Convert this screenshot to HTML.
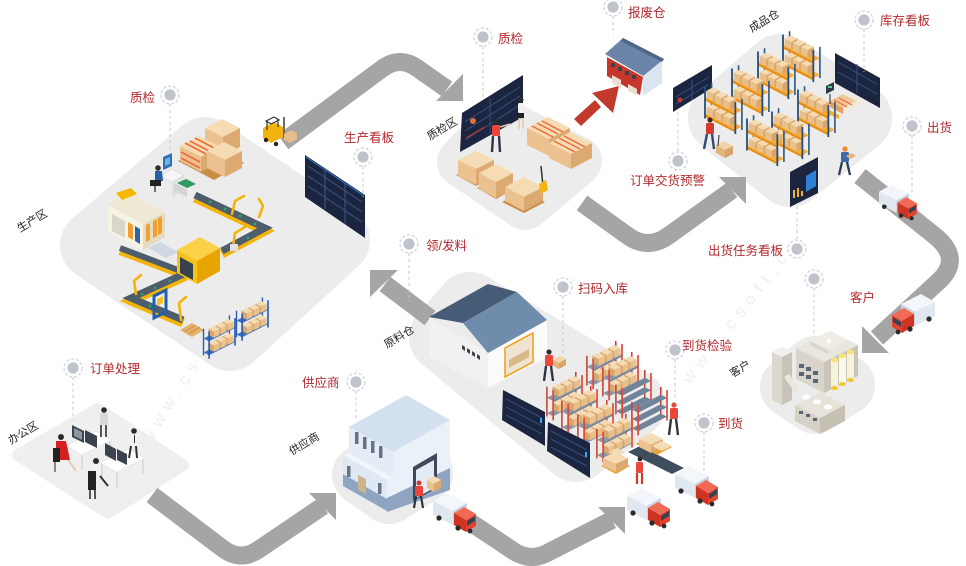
<!DOCTYPE html>
<html><head><meta charset="utf-8">
<style>
html,body{margin:0;padding:0;background:#fff;}
svg{display:block;}
.r{font-family:"Liberation Sans","Noto Sans CJK SC",sans-serif;font-size:12.5px;fill:#b2282d;}
.k{font-family:"Liberation Sans","Noto Sans CJK SC",sans-serif;font-size:11px;fill:#222;}
.w{font-family:"Liberation Sans",sans-serif;font-size:17px;fill:#efefef;letter-spacing:7px;}
</style></head><body>
<svg width="966" height="566" viewBox="0 0 966 566" xmlns="http://www.w3.org/2000/svg" xmlns:xlink="http://www.w3.org/1999/xlink">
<defs>
<g id="bx">
 <polygon points="0,0 8,-4 16,0 8,4" fill="#f5dbb3"/>
 <polygon points="0,0 8,4 8,13 0,9" fill="#e9bf8a"/>
 <polygon points="8,4 16,0 16,9 8,13" fill="#d9a76c"/>
</g>
<g id="truck">
 <polygon points="0,10 14,2 34,12 20,20" fill="#f3f6fa"/>
 <polygon points="0,10 20,20 20,34 0,24" fill="#dfe7f1"/>
 <polygon points="20,20 34,12 34,26 20,34" fill="#c9d4e2"/>
 <polygon points="21,22 31,16 43,23 33,29" fill="#f06a55"/>
 <polygon points="21,22 33,29 33,41 21,34" fill="#cf3322"/>
 <polygon points="33,29 43,23 43,35 33,41" fill="#e6432f"/>
 <polygon points="34,30 42,25 42,30 34,35" fill="#344255"/>
 <circle cx="6" cy="27" r="2.6" fill="#2b2b2b"/>
 <circle cx="25" cy="37" r="2.6" fill="#2b2b2b"/>
 <circle cx="37" cy="40" r="2.4" fill="#2b2b2b"/>
</g>
<g id="shf">
 <line x1="8" y1="-18" x2="8" y2="20" stroke="#2c5a88" stroke-width="2"/>
 <line x1="45" y1="1" x2="45" y2="39" stroke="#2c5a88" stroke-width="2"/>
 <polygon points="0,20 8,16 45,35 37,39" fill="#f7ad3a"/>
 <polygon points="0,20 37,39 37,42 0,23" fill="#e98c12"/>
 <use xlink:href="#bx" x="2" y="11"/><use xlink:href="#bx" x="12" y="16"/><use xlink:href="#bx" x="22" y="21"/>
 <polygon points="0,0 8,-4 45,15 37,19" fill="#f7ad3a"/>
 <polygon points="0,0 37,19 37,22 0,3" fill="#e98c12"/>
 <use xlink:href="#bx" x="2" y="-9"/><use xlink:href="#bx" x="12" y="-4"/><use xlink:href="#bx" x="22" y="1"/>
 <line x1="0" y1="-14" x2="0" y2="25" stroke="#24507c" stroke-width="2.2"/>
 <line x1="37" y1="5" x2="37" y2="44" stroke="#24507c" stroke-width="2.2"/>
</g>
<g id="shr">
 <line x1="8" y1="-18" x2="8" y2="20" stroke="#c8412f" stroke-width="2"/>
 <line x1="45" y1="1" x2="45" y2="39" stroke="#c8412f" stroke-width="2"/>
 <polygon points="0,20 8,16 45,35 37,39" fill="#8796a8"/>
 <use xlink:href="#bx" x="2" y="11"/><use xlink:href="#bx" x="12" y="16"/><use xlink:href="#bx" x="22" y="21"/>
 <polygon points="0,0 8,-4 45,15 37,19" fill="#8796a8"/>
 <polygon points="0,0 37,19 37,21 0,2" fill="#6d7d90"/>
 <use xlink:href="#bx" x="2" y="-9"/><use xlink:href="#bx" x="12" y="-4"/><use xlink:href="#bx" x="22" y="1"/>
 <line x1="0" y1="-14" x2="0" y2="25" stroke="#e04b38" stroke-width="2.2"/>
 <line x1="37" y1="5" x2="37" y2="44" stroke="#e04b38" stroke-width="2.2"/>
</g>
<g id="shg">
 <line x1="8" y1="-18" x2="8" y2="20" stroke="#c8412f" stroke-width="2"/>
 <line x1="45" y1="1" x2="45" y2="39" stroke="#c8412f" stroke-width="2"/>
 <polygon points="0,20 8,16 45,35 37,39" fill="#70839a"/>
 <polygon points="0,8 8,4 45,23 37,27" fill="#70839a"/>
 <polygon points="0,-4 8,-8 45,11 37,15" fill="#70839a"/>
 <line x1="0" y1="-14" x2="0" y2="25" stroke="#e04b38" stroke-width="2.2"/>
 <line x1="37" y1="5" x2="37" y2="44" stroke="#e04b38" stroke-width="2.2"/>
</g>
<g id="shb">
 <line x1="8" y1="-18" x2="8" y2="20" stroke="#2a5fb0" stroke-width="2"/>
 <line x1="45" y1="1" x2="45" y2="39" stroke="#2a5fb0" stroke-width="2"/>
 <polygon points="0,20 8,16 45,35 37,39" fill="#3f6fc0"/>
 <use xlink:href="#bx" x="2" y="11"/><use xlink:href="#bx" x="12" y="16"/><use xlink:href="#bx" x="22" y="21"/>
 <polygon points="0,0 8,-4 45,15 37,19" fill="#3f6fc0"/>
 <use xlink:href="#bx" x="2" y="-9"/><use xlink:href="#bx" x="12" y="-4"/><use xlink:href="#bx" x="22" y="1"/>
 <line x1="0" y1="-14" x2="0" y2="25" stroke="#1f56b0" stroke-width="2.2"/>
 <line x1="37" y1="5" x2="37" y2="44" stroke="#1f56b0" stroke-width="2.2"/>
</g>
<g id="pin">
 <circle r="9" fill="#fff" stroke="#d3d6dc" stroke-width="1.4" stroke-dasharray="3 2"/>
 <circle r="5.6" fill="#bfc3cb"/>
</g>
</defs>

<!-- watermark -->
<text class="w" transform="translate(150,445) rotate(-58)">www.csoft.cn</text>
<text class="w" transform="translate(690,385) rotate(-52)">www.csoft.cn</text>

<!-- platforms -->
<g stroke-linejoin="round">
<polygon points="95,245 205,152 335,240 230,336" fill="#ececec" stroke="#ececec" stroke-width="70"/>
<polygon points="462,162 500,122 577,161 525,205" fill="#ececec" stroke="#ececec" stroke-width="50"/>
<polygon points="723,118 780,69 857,118 790,172" fill="#ececec" stroke="#ececec" stroke-width="70"/>
<polygon points="444,337 470,307 631,404 576,447" fill="#ececec" stroke="#ececec" stroke-width="70"/>
<polygon points="790,387 815,366 845,385 815,404" fill="#ececec" stroke="#ececec" stroke-width="60"/>
<polygon points="18,455 98,409 183,465 108,513" fill="#efefef" stroke="#efefef" stroke-width="12"/>
<polygon points="362,475 397,449 423,473 389,494" fill="#ececec" stroke="#ececec" stroke-width="60"/>
</g>

<!-- gray flow arrows -->
<g fill="none" stroke="#a5a5a5" stroke-width="18">
<path d="M283 142 L383 68 Q400 56 417 68 L447 89"/>
<path d="M582 203 L628 236 Q648 250 668 236 L732 190"/>
<path d="M860 176 L935 236 Q962 258 940 280 L877 338"/>
<path d="M430 318 L385 284"/>
<path d="M152 495 L222 548 Q240 562 258 550 L323 506"/>
<path d="M470 522 L515 552 Q532 562 549 552 L612 520"/>
</g>
<g fill="#a5a5a5">
<polygon points="463,101 463,74 436,101"/>
<polygon points="746,177 719,177 746,204"/>
<polygon points="862,353 862,326 889,353"/>
<polygon points="370,270 398,270 370,297"/>
<polygon points="336,493 309,493 336,520"/>
<polygon points="625,507 598,507 625,534"/>
</g>

<!-- red arrow -->
<polygon points="574,119 595,100 601,107 581,126" fill="#c23a2c"/>
<polygon points="619,86 592,93 613,113" fill="#c23a2c"/>

<!-- ================= PRODUCTION ================= -->
<polygon points="178,161 208,144 244,163 214,180" fill="#c98d45"/>
<polygon points="205,128 222,119 240,128 223,137" fill="#f6dcb4"/>
<polygon points="205,128 223,137 223,156 205,147" fill="#ebc190"/>
<polygon points="223,137 240,128 240,147 223,156" fill="#dcaa70"/>
<polygon points="180,146 199,136 220,147 201,157" fill="#f6dcb4"/>
<polygon points="180,146 201,157 201,172 180,161" fill="#ebc190"/>
<polygon points="201,157 220,147 220,162 201,172" fill="#dcaa70"/>
<g stroke="#ef6a3a" stroke-width="1.6">
<line x1="185" y1="143" x2="206" y2="154"/><line x1="190" y1="141" x2="211" y2="152"/><line x1="195" y1="138" x2="216" y2="149"/>
<line x1="181" y1="152" x2="200" y2="162"/><line x1="181" y1="158" x2="200" y2="168"/>
</g>
<polygon points="207,151 224,142 242,151 225,160" fill="#f6dcb4"/>
<polygon points="207,151 225,160 225,177 207,168" fill="#ebc190"/>
<polygon points="225,160 242,151 242,168 225,177" fill="#dcaa70"/>

<!-- forklift -->
<polygon points="263,128 274,122 283,127 283,137 271,143 263,138" fill="#f4b40f"/>
<polygon points="266,121 274,117 279,120 271,124" fill="none" stroke="#333" stroke-width="1.2"/>
<line x1="267" y1="121" x2="267" y2="130" stroke="#333" stroke-width="1.2"/>
<line x1="278" y1="119" x2="278" y2="127" stroke="#333" stroke-width="1.2"/>
<line x1="284" y1="117" x2="284" y2="138" stroke="#6b6b6b" stroke-width="2"/>
<circle cx="266" cy="140" r="2.2" fill="#222"/><circle cx="276" cy="144" r="2.2" fill="#222"/>
<polygon points="284,134 291,130 297,133 297,139 290,143 284,140" fill="#e6be8a"/>

<!-- computer station -->
<polygon points="160,176 172,169 184,175 172,182" fill="#f6f6f6" stroke="#d5d5d5" stroke-width="0.6"/>
<polygon points="172,182 184,175 184,190 172,197" fill="#e0e0e0"/>
<polygon points="163,157 172,153 172,166 163,170" fill="#2f6fb5"/>
<polygon points="165,159 170,157 170,164 165,166" fill="#6fb0e8"/>
<circle cx="158" cy="168" r="2.8" fill="#2b2b2b"/>
<polygon points="155,171 162,171 163,181 155,181" fill="#2660a8"/>
<polygon points="150,180 161,180 161,186 150,186" fill="#222"/>
<line x1="155" y1="186" x2="155" y2="192" stroke="#444" stroke-width="1.5"/>
<polygon points="174,183 186,177 199,184 187,190" fill="#e6e9e6"/>
<polygon points="177,183 186,179 196,184 187,188" fill="#2f9a62"/>
<polygon points="174,183 187,190 187,197 174,190" fill="#d4d4d4"/>

<!-- cream machine -->
<polygon points="108,205 130,193 165,212 143,224" fill="#efe9d4"/>
<polygon points="108,205 143,224 143,250 108,231" fill="#f7f3e2"/>
<polygon points="143,224 165,212 165,237 143,250" fill="#e3dcc3"/>
<polygon points="112,214 125,221 125,238 112,231" fill="#d9d6cc"/>
<polygon points="128,222 133,225 133,240 128,237" fill="#f0a030"/>
<polygon points="135,226 140,229 140,244 135,241" fill="#2f65a8"/>
<polygon points="146,225 150,223 150,240 146,242" fill="#f0a030"/>
<polygon points="153,221 157,219 157,236 153,238" fill="#f0a030"/>
<polygon points="158,218 162,216 162,233 158,235" fill="#f0a030"/>
<polygon points="116,193 131,188 137,194 122,200" fill="#f5b800"/>
<polygon points="148,248 160,242 178,252 166,258" fill="#cfd8e2"/>

<!-- conveyors -->
<g fill="none" stroke-linejoin="miter">
<path d="M195 198 L265 231 L222 254" stroke="#f2b40c" stroke-width="9"/>
<path d="M195 195 L265 228 L222 251" stroke="#4d5d6c" stroke-width="7"/>
<path d="M120 251 L178 273" stroke="#f2b40c" stroke-width="8"/>
<path d="M120 248 L178 270" stroke="#4d5d6c" stroke-width="6"/>
<path d="M186 276 L131 301 L183 323" stroke="#f2b40c" stroke-width="9"/>
<path d="M186 273 L131 298 L183 320" stroke="#4d5d6c" stroke-width="7"/>
</g>
<g fill="#2fa36b">
<circle cx="210" cy="202" r="1.4"/><circle cx="225" cy="209" r="1.4"/><circle cx="240" cy="216" r="1.4"/><circle cx="255" cy="224" r="1.4"/>
<circle cx="248" cy="238" r="1.4"/><circle cx="235" cy="245" r="1.4"/>
<circle cx="170" cy="281" r="1.4"/><circle cx="155" cy="288" r="1.4"/><circle cx="142" cy="294" r="1.4"/>
<circle cx="150" cy="306" r="1.4"/><circle cx="165" cy="312" r="1.4"/>
</g>
<polygon points="177,250 200,237 220,248 197,261" fill="#fbd147"/>
<polygon points="177,250 197,261 197,284 177,273" fill="#f7c21a"/>
<polygon points="197,261 220,248 220,271 197,284" fill="#e8a500"/>
<polygon points="180,257 193,264 193,280 180,273" fill="#37424f"/>
<g fill="none" stroke="#f2b40c" stroke-width="2.6" stroke-linecap="round">
<path d="M232 214 L235 201 L244 196"/>
<path d="M259 217 L263 206 L259 199"/>
<path d="M233 247 L235 233 L245 227"/>
<path d="M136 294 L134 281 L141 275"/>
<path d="M181 320 L179 303 L186 297"/>
</g>
<rect x="230" y="244" width="8" height="7" fill="#e0e0e0"/>
<polygon points="154,296 166,290 166,312 154,318" fill="none" stroke="#1f5fae" stroke-width="3"/>
<polygon points="157,299 163,296 163,303 157,306" fill="#f5c020"/>
<polygon points="180,330 192,323 204,330 192,337" fill="#e5b068"/>
<g stroke="#c98d45" stroke-width="0.8"><line x1="184" y1="332" x2="196" y2="325"/><line x1="188" y1="334" x2="200" y2="327"/></g>
<use xlink:href="#shb" transform="translate(268,310) scale(-0.7,0.7)"/>
<use xlink:href="#shb" transform="translate(235,328) scale(-0.7,0.7)"/>

<!-- production screen -->
<polygon points="305,155 365,195 365,238 305,197" fill="#1c2540"/>
<g stroke="#3d5688" stroke-width="1">
<line x1="308" y1="166" x2="362" y2="202"/><line x1="308" y1="176" x2="362" y2="212"/><line x1="308" y1="186" x2="362" y2="222"/>
<line x1="325" y1="170" x2="325" y2="209"/><line x1="345" y1="183" x2="345" y2="223"/>
</g>
<line x1="306" y1="157" x2="364" y2="196" stroke="#2c7bd0" stroke-width="1"/>

<!-- ================= QUALITY ================= -->
<polygon points="462,113 523,75 523,117 460,152" fill="#1c2540"/>
<g stroke="#35507e" stroke-width="1">
<line x1="465" y1="122" x2="520" y2="87"/><line x1="465" y1="131" x2="520" y2="96"/><line x1="465" y1="140" x2="520" y2="105"/>
<line x1="490" y1="98" x2="490" y2="134"/>
</g>
<circle cx="473" cy="121" r="3" fill="#e3703a"/>
<line x1="466" y1="138" x2="485" y2="127" stroke="#c0392b" stroke-width="1.2"/>
<circle cx="521" cy="100" r="2.5" fill="#2b2b2b"/>
<rect x="518" y="103" width="6" height="10" rx="1.5" fill="#f2f2f2"/>
<rect x="518" y="113" width="6" height="5" fill="#222"/>
<path d="M519 118 L519 129 M523 118 L523 129" stroke="#e8c8a8" stroke-width="1.6"/>
<circle cx="496" cy="122" r="2.6" fill="#2b2b2b"/>
<rect x="492" y="125" width="8" height="11" rx="1.5" fill="#e9473a"/>
<line x1="500" y1="127" x2="510" y2="124" stroke="#e8c8a8" stroke-width="1.6"/>
<path d="M493 136 L492 152 M499 136 L500 152" stroke="#2e3440" stroke-width="2.4"/>
<polygon points="527,128 548,117 570,128 549,139" fill="#f6dcb4"/>
<polygon points="527,128 549,139 549,156 527,145" fill="#ebc190"/>
<polygon points="549,139 570,128 570,145 549,156" fill="#dcaa70"/>
<polygon points="549,143 570,132 592,143 571,154" fill="#f6dcb4"/>
<polygon points="549,143 571,154 571,169 549,158" fill="#ebc190"/>
<polygon points="571,154 592,143 592,158 571,169" fill="#dcaa70"/>
<g stroke="#ef6a3a" stroke-width="1.5">
<line x1="532" y1="126" x2="553" y2="137"/><line x1="537" y1="123" x2="558" y2="134"/><line x1="542" y1="121" x2="563" y2="132"/>
<line x1="554" y1="141" x2="575" y2="152"/><line x1="559" y1="138" x2="580" y2="149"/><line x1="564" y1="136" x2="585" y2="147"/>
</g>
<polygon points="456,175 476,164 496,175 476,186" fill="#c98d45"/>
<polygon points="458,160 476,151 494,160 476,169" fill="#f6dcb4"/>
<polygon points="458,160 476,169 476,185 458,176" fill="#ebc190"/>
<polygon points="476,169 494,160 494,176 476,185" fill="#dcaa70"/>
<polygon points="477,188 496,177 515,188 496,199" fill="#c98d45"/>
<polygon points="479,173 496,164 513,173 496,182" fill="#f6dcb4"/>
<polygon points="479,173 496,182 496,198 479,189" fill="#ebc190"/>
<polygon points="496,182 513,173 513,189 496,198" fill="#dcaa70"/>
<polygon points="502,202 523,191 545,202 524,213" fill="#c98d45"/>
<polygon points="505,187 524,177 543,187 524,197" fill="#f6dcb4"/>
<polygon points="505,187 524,197 524,211 505,201" fill="#ebc190"/>
<polygon points="524,197 543,187 543,201 524,211" fill="#dcaa70"/>
<line x1="541" y1="166" x2="543" y2="186" stroke="#333" stroke-width="1.5"/>
<polygon points="539,184 546,180 548,190 541,194" fill="#f4b40f"/>

<!-- scrap warehouse -->
<polygon points="607,57 643,77 640,95 607,76" fill="#c8352b"/>
<polygon points="643,74 662,61 662,83 643,96" fill="#dbe5f2"/>
<polygon points="605,54 623,38 664,59 648,72 643,76" fill="#6b84a8"/>
<polygon points="623,38 664,59 662,62 621,41" fill="#4f6687"/>
<g fill="#3a4250"><rect x="611" y="63" width="4" height="4"/><rect x="618" y="67" width="4" height="4"/><rect x="625" y="71" width="4" height="4"/><rect x="632" y="75" width="4" height="4"/></g>
<polygon points="612,75 621,80 621,88 612,83" fill="#e8dfcf"/>
<polygon points="628,84 637,89 637,95 628,91" fill="#e8dfcf"/>

<!-- ================= FINISHED GOODS ================= -->
<polygon points="673,88 712,65 712,88 673,112" fill="#1c2540"/>
<g stroke="#35507e" stroke-width="1"><line x1="676" y1="97" x2="709" y2="77"/><line x1="676" y1="104" x2="709" y2="84"/><line x1="692" y1="80" x2="692" y2="100"/></g>
<circle cx="680" cy="100" r="2.5" fill="#c0392b"/>
<polygon points="835,53 880,78 880,108 835,83" fill="#1c2540"/>
<g stroke="#35507e" stroke-width="1"><line x1="838" y1="62" x2="877" y2="84"/><line x1="838" y1="72" x2="877" y2="94"/><line x1="857" y1="64" x2="857" y2="93"/></g>
<use xlink:href="#shf" transform="translate(783,46) scale(0.82)"/>
<use xlink:href="#shf" transform="translate(758,63) scale(0.82)"/>
<use xlink:href="#shf" transform="translate(732,80) scale(0.82)"/>
<use xlink:href="#shf" transform="translate(705,98) scale(0.82)"/>
<polygon points="825,108 850,95 864,102 839,115" fill="#f2ead8"/>
<polygon points="825,108 839,115 839,119 825,112" fill="#f3a83a"/>
<polygon points="830,101 843,94 856,101 843,108" fill="#f0c89a"/>
<polygon points="830,101 843,108 843,114 830,107" fill="#e49e63"/>
<g stroke="#ef6a3a" stroke-width="1.2"><line x1="834" y1="100" x2="847" y2="107"/><line x1="839" y1="98" x2="852" y2="105"/></g>
<polygon points="826,86 834,82 834,90 826,94" fill="#2f3b4c"/>
<rect x="828" y="86" width="4" height="2" fill="#4cd08a"/>
<line x1="830" y1="94" x2="830" y2="104" stroke="#444" stroke-width="1.2"/>
<use xlink:href="#shf" transform="translate(798,101) scale(0.82)"/>
<use xlink:href="#shf" transform="translate(772,123) scale(0.82)"/>
<use xlink:href="#shf" transform="translate(747,130) scale(0.82)"/>
<circle cx="710" cy="120" r="2.6" fill="#3a2a20"/>
<rect x="706" y="123" width="8" height="11" rx="1.5" fill="#d33a2e"/>
<path d="M707 134 L704 149 M712 134 L714 149" stroke="#2e4a78" stroke-width="2.4"/>
<polygon points="716,145 724,141 733,146 725,150" fill="#f3d4a6"/>
<polygon points="716,145 725,150 725,158 716,153" fill="#e3b47c"/>
<polygon points="725,150 733,146 733,154 725,158" fill="#d6a36a"/>
<line x1="719" y1="135" x2="718" y2="146" stroke="#444" stroke-width="1.2"/>
<circle cx="845" cy="149" r="2.6" fill="#f08a24"/>
<rect x="841" y="152" width="8" height="10" rx="1.5" fill="#3d6aa8"/>
<polygon points="846,156 852,153 856,156 850,159" fill="#e3b47c"/>
<path d="M842 162 L839 175 M847 162 L850 175" stroke="#2e3c55" stroke-width="2.3"/>
<polygon points="790,172 818,157 818,193 790,207" fill="#1c2540"/>
<polygon points="806,176 816,170 816,186 806,192" fill="#2f7fd6"/>
<g fill="#f0b429"><rect x="793" y="190" width="2" height="8"/><rect x="797" y="188" width="2" height="9"/><rect x="801" y="191" width="2" height="5"/></g>
<use xlink:href="#truck" transform="translate(879,183) scale(0.88)"/>

<!-- ================= RAW MATERIAL ================= -->
<polygon points="429,317 488,353 488,388 429,357" fill="#f1f1f1"/>
<polygon points="488,353 547,320 547,358 488,388" fill="#fbfbfb"/>
<polygon points="429,317 488,284 517,292 463,323" fill="#465b76"/>
<polygon points="463,323 517,292 547,320 488,353" fill="#6f8cad"/>
<polygon points="505,348 533,333 533,362 505,377" fill="#efe4d2" stroke="#f39c12" stroke-width="1.5"/>
<polygon points="509,360 529,349 529,357 509,368" fill="#d9b889"/>
<g fill="#3a4250">
<polygon points="462,345 465,347 465,351 462,349"/><polygon points="467,348 470,350 470,354 467,352"/>
<polygon points="472,351 475,353 475,357 472,355"/><polygon points="477,354 480,356 480,360 477,358"/>
</g>
<circle cx="549" cy="352" r="2.6" fill="#2b2b2b"/>
<rect x="545" y="355" width="8" height="11" rx="1.5" fill="#e9473a"/>
<path d="M546 366 L544 381 M551 366 L553 381" stroke="#2e3440" stroke-width="2.4"/>
<polygon points="553,360 560,356 566,359 559,363" fill="#f3d4a6"/>
<polygon points="553,360 559,363 559,369 553,366" fill="#e3b47c"/>
<polygon points="559,363 566,359 566,365 559,369" fill="#d6a36a"/>
<use xlink:href="#shr" transform="translate(622,355) scale(-0.78,0.78)"/>
<use xlink:href="#shr" transform="translate(638,366) scale(-0.78,0.78)"/>
<use xlink:href="#shg" transform="translate(651,384) scale(-0.78,0.78)"/>
<use xlink:href="#shr" transform="translate(582,386) scale(-0.78,0.78)"/>
<use xlink:href="#shg" transform="translate(667,401) scale(-0.78,0.78)"/>
<use xlink:href="#shr" transform="translate(597,400) scale(-0.78,0.78)"/>
<use xlink:href="#shr" transform="translate(613,414) scale(-0.78,0.78)"/>
<use xlink:href="#shr" transform="translate(632,428) scale(-0.78,0.78)"/>
<polygon points="503,390 545,412 545,446 502,420" fill="#1c2540"/>
<g stroke="#35507e" stroke-width="1"><line x1="506" y1="399" x2="542" y2="418"/><line x1="506" y1="407" x2="542" y2="426"/><line x1="506" y1="415" x2="542" y2="434"/></g>
<polygon points="548,422 590,443 590,478 547,451" fill="#1c2540"/>
<g stroke="#35507e" stroke-width="1"><line x1="551" y1="431" x2="587" y2="450"/><line x1="551" y1="439" x2="587" y2="458"/><line x1="551" y1="447" x2="587" y2="466"/></g>
<rect x="540" y="418" width="2" height="5" fill="#3fa9f5"/><rect x="585" y="452" width="2" height="5" fill="#3fa9f5"/>
<circle cx="674" cy="405" r="2.6" fill="#e9473a"/>
<rect x="670" y="408" width="8" height="11" rx="1.5" fill="#e9473a"/>
<path d="M671 419 L669 435 M676 419 L678 435" stroke="#2e3440" stroke-width="2.4"/>
<polygon points="628,452 640,446 684,468 672,474" fill="#3f4e5e"/>
<polygon points="601,466 615,458 630,466 616,474" fill="#e9a33a"/>
<polygon points="603,458 615,452 628,458 616,464" fill="#f6dcb4"/>
<polygon points="603,458 616,464 616,472 603,466" fill="#ebc190"/>
<polygon points="616,464 628,458 628,466 616,472" fill="#dcaa70"/>
<polygon points="609,452 617,448 625,452 617,456" fill="#f6dcb4"/>
<polygon points="636,444 651,436 672,447 657,455" fill="#e9a33a"/>
<polygon points="639,439 651,433 663,439 651,445" fill="#f6dcb4"/>
<polygon points="639,439 651,445 651,453 639,447" fill="#ebc190"/>
<polygon points="651,445 663,439 663,447 651,453" fill="#dcaa70"/>
<polygon points="652,446 662,441 672,446 662,451" fill="#f6dcb4"/>
<circle cx="640" cy="459" r="2.4" fill="#2b2b2b"/>
<rect x="636" y="462" width="7" height="11" rx="1.5" fill="#e9473a"/>
<path d="M637 473 L637 484 M642 473 L642 484" stroke="#d33a2e" stroke-width="2.2"/>
<use xlink:href="#truck" transform="translate(675,464)"/>
<use xlink:href="#truck" transform="translate(627,486)"/>

<!-- ================= CUSTOMER ================= -->
<polygon points="796,348 830,331 858,345 824,362" fill="#e9e6de"/>
<polygon points="796,348 824,362 824,393 796,379" fill="#d9d5cb"/>
<polygon points="824,362 858,345 858,376 824,393" fill="#cac4b7"/>
<polygon points="810,341 829,331 847,340 828,350" fill="#efece5"/>
<polygon points="810,341 828,350 828,354 810,345" fill="#d9d5cb"/>
<circle cx="829" cy="341" r="2" fill="#fff"/>
<g fill="#59667a"><rect x="799" y="364" width="5" height="4"/><rect x="806" y="367" width="5" height="4"/><rect x="813" y="371" width="5" height="4"/><rect x="799" y="372" width="5" height="4"/><rect x="806" y="375" width="5" height="4"/><rect x="813" y="379" width="5" height="4"/></g>
<g>
<rect x="831" y="360" width="7" height="28" fill="#f6f3dc"/><ellipse cx="834.5" cy="360" rx="3.5" ry="2.5" fill="#f3e77a"/><ellipse cx="834.5" cy="388" rx="3.5" ry="2" fill="#f0c830"/>
<rect x="839" y="356" width="7" height="28" fill="#fbf9ea"/><ellipse cx="842.5" cy="356" rx="3.5" ry="2.5" fill="#f3e77a"/><ellipse cx="842.5" cy="384" rx="3.5" ry="2" fill="#f0c830"/>
<rect x="847" y="352" width="7" height="28" fill="#f6f3dc"/><ellipse cx="850.5" cy="352" rx="3.5" ry="2.5" fill="#f3e77a"/><ellipse cx="850.5" cy="380" rx="3.5" ry="2" fill="#f0c830"/>
</g>
<polygon points="772,352 782,347 792,352 782,357" fill="#f2f0ec"/>
<polygon points="772,352 782,357 782,405 772,400" fill="#dcd8cf"/>
<polygon points="782,357 792,352 792,400 782,405" fill="#c8c3b8"/>
<polygon points="784,377 789,374 800,390 795,393" fill="#ebe7de"/>
<polygon points="795,405 820,392 845,405 820,418" fill="#e7e3da"/>
<polygon points="795,405 820,418 820,434 795,421" fill="#d6d1c5"/>
<polygon points="820,418 845,405 845,421 820,434" fill="#c6c0b3"/>
<g fill="#fff"><ellipse cx="806" cy="397" rx="4" ry="2.5"/><ellipse cx="817" cy="402" rx="4" ry="2.5"/><ellipse cx="828" cy="407" rx="4" ry="2.5"/></g>
<g fill="#59667a"><rect x="799" y="411" width="4" height="3"/><rect x="806" y="414" width="4" height="3"/><rect x="813" y="418" width="4" height="3"/></g>
<use xlink:href="#truck" transform="translate(935,292) scale(-1,1)"/>

<!-- ================= OFFICE ================= -->
<g>
<polygon points="66,446 96,431 112,440 82,455" fill="#fff" stroke="#e0e0e0" stroke-width="0.6"/>
<g stroke="#cfcfcf" stroke-width="1.2"><line x1="68" y1="447" x2="68" y2="462"/><line x1="82" y1="455" x2="82" y2="470"/><line x1="110" y1="441" x2="110" y2="456"/></g>
<polygon points="72,425 84,431 84,443 72,437" fill="#3b4250"/>
<polygon points="85,430 97,436 97,448 85,442" fill="#3b4250"/>
<polygon points="74,428 82,432 82,440 74,436" fill="#8e96a3"/>
<polygon points="100,463 128,449 145,458 117,472" fill="#fff" stroke="#e0e0e0" stroke-width="0.6"/>
<g stroke="#cfcfcf" stroke-width="1.2"><line x1="102" y1="464" x2="102" y2="480"/><line x1="117" y1="472" x2="117" y2="488"/><line x1="143" y1="459" x2="143" y2="474"/></g>
<polygon points="105,443 116,449 116,461 105,455" fill="#3b4250"/>
<polygon points="117,449 127,454 127,465 117,460" fill="#3b4250"/>
<circle cx="104" cy="410" r="2.8" fill="#2b2b2b"/>
<rect x="100" y="413" width="8" height="12" rx="2" fill="#d9d9d9"/>
<path d="M101 425 L101 437 M106 425 L106 437" stroke="#555" stroke-width="2"/>
<circle cx="61" cy="437" r="3" fill="#2b2b2b"/>
<polygon points="56,441 66,441 70,460 56,460" fill="#d42020"/>
<polygon points="53,448 60,448 60,462 53,462" fill="#222"/>
<line x1="55" y1="462" x2="55" y2="472" stroke="#444" stroke-width="1.2"/>
<line x1="68" y1="460" x2="76" y2="471" stroke="#e8c8a8" stroke-width="1.6"/>
<circle cx="134" cy="431" r="2.8" fill="#2b2b2b"/>
<rect x="130" y="434" width="8" height="12" rx="2" fill="#f2f2f2"/>
<rect x="134" y="435" width="1" height="8" fill="#333"/>
<path d="M131 446 L129 458 M136 446 L137 458" stroke="#333" stroke-width="2"/>
<circle cx="96" cy="461" r="3" fill="#2b2b2b"/>
<rect x="92" y="464" width="9" height="12" rx="2" fill="#f2f2f2"/>
<polygon points="88,471 96,471 96,490 88,490" fill="#222"/>
<path d="M90 490 L90 499 M95 490 L95 499" stroke="#222" stroke-width="1.5"/>
<path d="M100 476 L108 486" stroke="#333" stroke-width="2"/>
</g>

<!-- ================= SUPPLIER ================= -->
<polygon points="349,427 406,395 450,420 393,452" fill="#d3e0f0"/>
<polygon points="349,427 393,452 393,478 349,453" fill="#e3ecf7"/>
<polygon points="343,455 349,453 393,478 387,480" fill="#f2f6fb"/>
<polygon points="343,455 387,480 387,511 343,486" fill="#dfe9f5"/>
<polygon points="343,474 387,499 387,511 343,486" fill="#8ea4c1"/>
<polygon points="393,452 450,420 450,490 387,512 387,480 393,478" fill="#eaf1f9"/>
<polygon points="387,498 450,468 450,490 387,512" fill="#8ea4c1"/>
<polygon points="413,467 437,453 437,488 413,501" fill="#3e4a5c"/>
<polygon points="416,470 434,460 434,488 416,498" fill="#e3ebf5"/>
<g fill="#6b7280">
<rect x="355" y="432" width="3.5" height="12"/><rect x="363" y="437" width="3.5" height="12"/><rect x="371" y="441" width="3.5" height="12"/><rect x="379" y="446" width="3.5" height="12"/>
<rect x="347" y="466" width="3.5" height="11"/><rect x="378" y="483" width="3.5" height="11"/>
</g>
<polygon points="358,475 366,479 366,494 358,490" fill="#c9b48c"/>
<polygon points="427,480 434,476 441,480 434,484" fill="#f6dcb4"/>
<polygon points="427,480 434,484 434,492 427,488" fill="#ebc190"/>
<polygon points="434,484 441,480 441,488 434,492" fill="#dcaa70"/>
<circle cx="419" cy="483" r="2.5" fill="#d33a2e"/>
<rect x="415" y="486" width="8" height="10" rx="1.5" fill="#e9473a"/>
<path d="M416 496 L414 508 M421 496 L423 508" stroke="#2e3440" stroke-width="2.2"/>
<use xlink:href="#truck" transform="translate(433,491)"/>

<!-- ================= PINS & DASHED LINES ================= -->
<g stroke="#c9c9c9" stroke-width="1" stroke-dasharray="3 3" fill="none">
<line x1="170" y1="104" x2="170" y2="152"/>
<line x1="363" y1="166" x2="363" y2="197"/>
<line x1="409" y1="253" x2="409" y2="302"/>
<line x1="483" y1="46" x2="483" y2="100"/>
<line x1="613" y1="16" x2="613" y2="35"/>
<line x1="864" y1="29" x2="864" y2="72"/>
<line x1="912" y1="135" x2="912" y2="196"/>
<line x1="678" y1="112" x2="678" y2="152"/>
<line x1="797" y1="206" x2="797" y2="240"/>
<line x1="814" y1="288" x2="814" y2="333"/>
<line x1="563" y1="296" x2="563" y2="356"/>
<line x1="675" y1="359" x2="675" y2="399"/>
<line x1="704" y1="432" x2="704" y2="471"/>
<line x1="73" y1="377" x2="73" y2="420"/>
<line x1="356" y1="391" x2="356" y2="421"/>
</g>
<use xlink:href="#pin" x="170" y="95"/>
<use xlink:href="#pin" x="363" y="157"/>
<use xlink:href="#pin" x="409" y="244"/>
<use xlink:href="#pin" x="483" y="37"/>
<use xlink:href="#pin" x="613" y="7"/>
<use xlink:href="#pin" x="864" y="20"/>
<use xlink:href="#pin" x="912" y="126"/>
<use xlink:href="#pin" x="678" y="161"/>
<use xlink:href="#pin" x="797" y="249"/>
<use xlink:href="#pin" x="814" y="279"/>
<use xlink:href="#pin" x="563" y="287"/>
<use xlink:href="#pin" x="675" y="350"/>
<use xlink:href="#pin" x="704" y="423"/>
<use xlink:href="#pin" x="73" y="368"/>
<use xlink:href="#pin" x="356" y="382"/>

<!-- red labels -->
<text class="r" x="130" y="102">质检</text>
<text class="r" x="344" y="142">生产看板</text>
<text class="r" x="426" y="250">领/发料</text>
<text class="r" x="498" y="43">质检</text>
<text class="r" x="628" y="17">报废仓</text>
<text class="r" x="880" y="25">库存看板</text>
<text class="r" x="927" y="132">出货</text>
<text class="r" x="630" y="185">订单交货预警</text>
<text class="r" x="708" y="255">出货任务看板</text>
<text class="r" x="850" y="302">客户</text>
<text class="r" x="578" y="293">扫码入库</text>
<text class="r" x="682" y="350">到货检验</text>
<text class="r" x="718" y="428">到货</text>
<text class="r" x="90" y="373">订单处理</text>
<text class="r" x="302" y="387">供应商</text>

<!-- black zone labels -->
<text class="k" text-anchor="middle" transform="translate(34,224) rotate(-31)">生产区</text>
<text class="k" text-anchor="middle" transform="translate(444,132) rotate(-31)">质检区</text>
<text class="k" text-anchor="middle" transform="translate(766,24) rotate(-31)">成品仓</text>
<text class="k" text-anchor="middle" transform="translate(401,340) rotate(-31)">原料仓</text>
<text class="k" text-anchor="middle" transform="translate(742,372) rotate(-31)">客户</text>
<text class="k" text-anchor="middle" transform="translate(25,436) rotate(-31)">办公区</text>
<text class="k" text-anchor="middle" transform="translate(306,447) rotate(-31)">供应商</text>
</svg>
</body></html>
